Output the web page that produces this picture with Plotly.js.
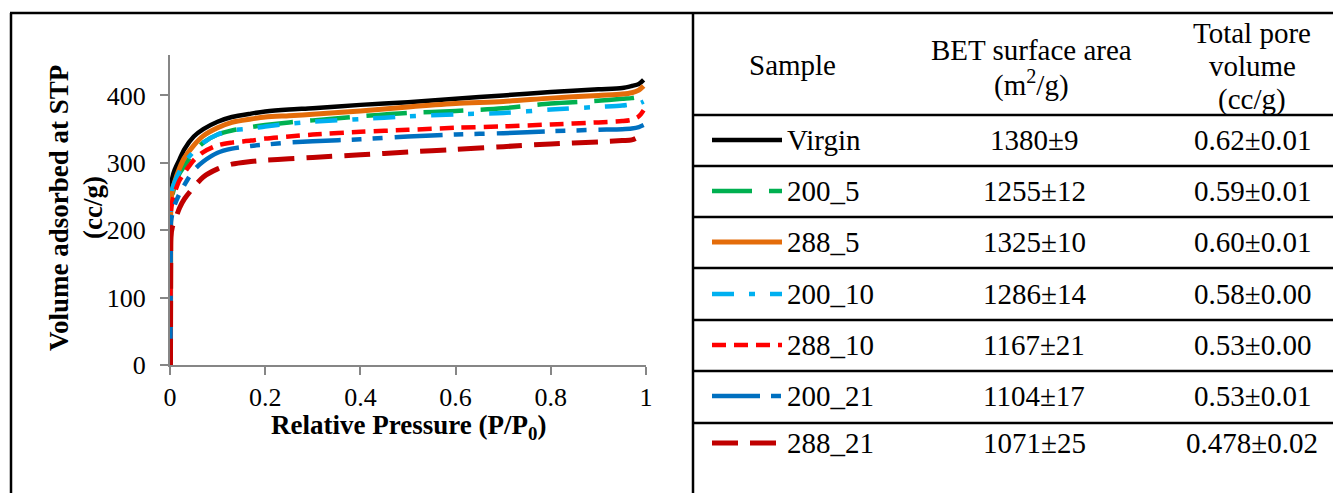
<!DOCTYPE html>
<html>
<head>
<meta charset="utf-8">
<script src="https://cdn.plot.ly/plotly-3.0.1.min.js"></script>
<style>
  html, body { margin: 0; padding: 0; background: #ffffff; }
  #chart { width: 1333px; height: 493px; }
</style>
</head>
<body>
<div id="chart"></div>
<script>
// ---------- data ----------
const pressure = [0.001, 0.0015, 0.002, 0.005, 0.01, 0.02, 0.03, 0.05, 0.07, 0.1, 0.13, 0.17, 0.2, 0.25, 0.3, 0.4, 0.5, 0.6, 0.7, 0.8, 0.9, 0.95, 0.97, 0.985, 0.995];
const virgin  = [0, 200, 262, 278, 290, 305, 320, 339, 350, 361, 368, 373, 376, 379, 381, 386, 390, 395, 400, 405, 409, 411, 414, 417, 423];
const s200_5  = [0, 185, 235, 252, 265, 284, 295, 316, 330, 342, 348, 353, 356, 360, 363, 369, 374, 377, 381, 388, 392, 395, 396, 398, 401];
const s288_5  = [0, 190, 242, 258, 272, 292, 307, 326, 340, 352, 360, 365, 368, 370, 372, 377, 383, 388, 391, 396, 400, 402, 404, 408, 414];
const s200_10 = [0, 185, 240, 262, 272, 287, 300, 317, 330, 342, 348, 351, 354, 358, 361, 365, 369, 372, 374, 379, 383, 385, 387, 388, 391];
const s288_10 = [0, 180, 228, 243, 256, 274, 285, 304, 316, 326, 330, 333, 336, 339, 342, 346, 349, 352, 354, 357, 360, 362, 364, 369, 378];
const s200_21 = [0, 170, 212, 225, 238, 254, 267, 289, 302, 315, 321, 325, 327, 330, 332, 335, 339, 342, 344, 347, 349, 350, 351, 353, 356];
const s288_21 = [0, 150, 190, 205, 214, 233, 246, 264, 279, 291, 298, 302, 304, 306, 308, 312, 316, 320, 324, 328, 331, 333, 334, 339, 347];

const samples  = ["Virgin", "200_5", "288_5", "200_10", "288_10", "200_21", "288_21"];
const betArea  = ["1380±9", "1255±12", "1325±10", "1286±14", "1167±21", "1104±17", "1071±25"];
const poreVol  = ["0.62±0.01", "0.59±0.01", "0.60±0.01", "0.58±0.00", "0.53±0.00", "0.53±0.01", "0.478±0.02"];
const headerSample = ["Sample"];
const headerBet    = ["BET surface area", "(m<sup>2</sup>/g)"];
const headerPore   = ["Total pore", "volume", "(cc/g)"];
const seriesY  = [virgin, s200_5, s288_5, s200_10, s288_10, s200_21, s288_21];

// ---------- styles ----------
const colors = ["#000000", "#00B050", "#E46C0A", "#00B0F0", "#FF0000", "#0070C0", "#C00000"];
const dashes = ["solid", "40px,17px", "solid", "22px,15px,6px,15px", "14px,8px", "48px,11px,10px,11px,10px,12px", "26px,12px"];
const widths = [4.5, 4.5, 5, 4.5, 4.5, 4.5, 5];

const FONT = "Liberation Serif, Times New Roman, serif";
const W = 1333, H = 493;
const L = 170, R = 646, T = 55, B = 365;          // plot area in pixels
const px = v => (v - L) / (R - L);                  // pixel -> paper x
const py = v => (B - v) / (B - T);                  // pixel -> paper y

const traces = samples.map((name, i) => ({
  type: "scatter",
  mode: "lines",
  name: name,
  x: pressure,
  y: seriesY[i],
  line: { color: colors[i], width: widths[i], dash: dashes[i], shape: "spline", smoothing: 0.8 },
  hoverinfo: "skip",
  showlegend: false
}));

// ---------- table frame ----------
const shapes = [];
const frameLine = { color: "#000000", width: 2.5 };
shapes.push({ type: "line", xref: "paper", yref: "paper", x0: px(11), x1: px(11), y0: py(13), y1: py(500), line: frameLine });
shapes.push({ type: "line", xref: "paper", yref: "paper", x0: px(10), x1: px(1340), y0: py(13), y1: py(13), line: frameLine });
shapes.push({ type: "line", xref: "paper", yref: "paper", x0: px(693), x1: px(693), y0: py(13), y1: py(500), line: frameLine });
const rowLines = [115, 166, 217, 268, 320, 371, 423];
rowLines.forEach(y => shapes.push({ type: "line", xref: "paper", yref: "paper", x0: px(693), x1: px(1340), y0: py(y), y1: py(y), line: frameLine }));

const rowCenters = [140, 191, 242, 294, 345, 396, 443];
const annotations = [];
const tfont = { family: FONT, size: 29, color: "#000000" };
const note = (x, y, text, anchor) => ({ xref: "paper", yref: "paper", x: px(x), y: py(y),
  xanchor: anchor || "center", yanchor: "middle", text: text, showarrow: false, font: tfont });

// legend samples + rows
samples.forEach((name, i) => {
  shapes.push({ type: "line", xref: "paper", yref: "paper",
    x0: px(712), x1: px(782), y0: py(rowCenters[i]), y1: py(rowCenters[i]),
    line: { color: colors[i], width: widths[i], dash: dashes[i] } });
  annotations.push(note(785, rowCenters[i], name, "left"));
  annotations.push(note(1034, rowCenters[i], betArea[i]));
  annotations.push(note(1252, rowCenters[i], poreVol[i]));
});

// header
annotations.push(note(792, 65, headerSample[0]));
[50, 84].forEach((y, k) => annotations.push(note(1031, y, headerBet[k])));
[33, 66, 99].forEach((y, k) => annotations.push(note(1252, y, headerPore[k])));

// axis titles
const titleFont = { family: FONT, size: 27, color: "#000000" };
annotations.push({ xref: "paper", yref: "paper", x: px(408), y: py(427), xanchor: "center", yanchor: "middle",
  text: "<b>Relative Pressure (P/P<sub>0</sub>)</b>", showarrow: false, font: titleFont });
annotations.push({ xref: "paper", yref: "paper", x: px(59), y: py(208), xanchor: "center", yanchor: "middle",
  textangle: -90, text: "<b>Volume adsorbed at STP</b>", showarrow: false, font: titleFont });
annotations.push({ xref: "paper", yref: "paper", x: px(93), y: py(208), xanchor: "center", yanchor: "middle",
  textangle: -90, text: "<b>(cc/g)</b>", showarrow: false, font: titleFont });

const axisColor = "#868686";
const layout = {
  width: W, height: H,
  margin: { l: L, r: W - R, t: T, b: H - B, pad: 0 },
  paper_bgcolor: "#ffffff", plot_bgcolor: "#ffffff",
  showlegend: false,
  hovermode: false,
  xaxis: {
    range: [0, 1], dtick: 0.2, tick0: 0,
    showgrid: false, zeroline: false, showline: true, linecolor: axisColor, linewidth: 2,
    ticks: "outside", ticklen: 8, tickcolor: axisColor, tickwidth: 2,
    tickfont: { family: FONT, size: 26, color: "#000000" },
    ticklabelstandoff: 0
  },
  yaxis: {
    range: [0, 460], dtick: 100, tick0: 0,
    showgrid: false, zeroline: false, showline: true, linecolor: axisColor, linewidth: 2,
    ticks: "outside", ticklen: 8, tickcolor: axisColor, tickwidth: 2,
    tickfont: { family: FONT, size: 26, color: "#000000" },
    ticklabelstandoff: 9
  },
  shapes: shapes,
  annotations: annotations
};

Plotly.newPlot("chart", traces, layout, { staticPlot: true, displayModeBar: false });
</script>
</body>
</html>
